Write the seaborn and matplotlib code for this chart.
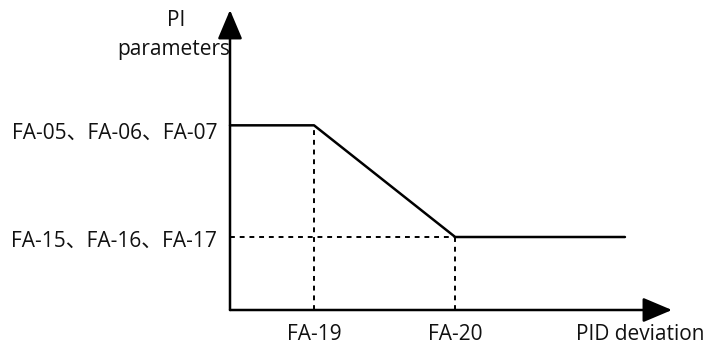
import matplotlib
matplotlib.use("Agg")
import matplotlib.pyplot as plt
import seaborn as sns
import pandas as pd

# ---- data (arbitrary units) ----
x_curve = [0.0, 1.0, 2.68, 4.70]       # origin, FA-19, FA-20, end
y_curve = [2.53, 2.53, 1.0, 1.0]       # upper PI level, lower PI level
x_marks = [1.0, 2.68]
x_labels = ["FA-19", "FA-20"]
y_marks = [2.53, 1.0]
y_labels = ["FA-05、FA-06、FA-07", "FA-15、FA-16、FA-17"]
x_title = "PID deviation"
y_title = ["PI", "parameters"]
x_max, y_max = 5.26, 4.11

sns.set_style("white")
plt.rcParams["font.family"] = ["Open Sans", "Noto Sans CJK SC", "DejaVu Sans"]

W, H = 706, 344
fig = plt.figure(figsize=(W / 100, H / 100), dpi=100)
ax = fig.add_axes([230 / W, (H - 310) / H, 442 / W, 300 / H])
ax.set_xlim(0, x_max)
ax.set_ylim(0, y_max)
ax.axis("off")

df = pd.DataFrame({"x": x_curve, "y": y_curve})
sns.lineplot(data=df, x="x", y="y", ax=ax, color="black", lw=1.8,
             sort=False, estimator=None, clip_on=False)

# dashed guides
ds = (0, (2.5, 2.5))
ax.plot([0, x_curve[2]], [y_curve[2], y_curve[2]], ls=ds, color="black", lw=1.4)
ax.plot([x_curve[1], x_curve[1]], [0, y_curve[1]], ls=ds, color="black", lw=1.4)
ax.plot([x_curve[2], x_curve[2]], [0, y_curve[2]], ls=ds, color="black", lw=1.4)

# axes arrows
arrow = dict(arrowstyle="-|>,head_length=0.9,head_width=0.38", lw=1.8,
             color="black", mutation_scale=20, shrinkA=0, shrinkB=0)
ax.annotate("", xy=(x_max, 0), xytext=(0, 0), arrowprops=arrow, annotation_clip=False)
ax.annotate("", xy=(0, y_max), xytext=(0, 0), arrowprops=arrow, annotation_clip=False)

fs = 15
def ftext(px, py, s, **kw):
    fig.text(px / W, 1 - py / H, s, fontsize=fs, color="#111111",
             fontweight="medium", **kw)

# y level labels
ftext(218, 133, y_labels[0], ha="right", va="center")
ftext(217, 241, y_labels[1], ha="right", va="center")
# x labels
for xm, lab in zip(x_marks, x_labels):
    px = 230 + xm * 84
    ftext(px, 335, lab, ha="center", va="center")
ftext(704, 335, x_title, ha="right", va="center")
ftext(176, 20, y_title[0], ha="center", va="center")
ftext(174, 49, y_title[1], ha="center", va="center")

fig.savefig("out.png", dpi=100, facecolor="white")
